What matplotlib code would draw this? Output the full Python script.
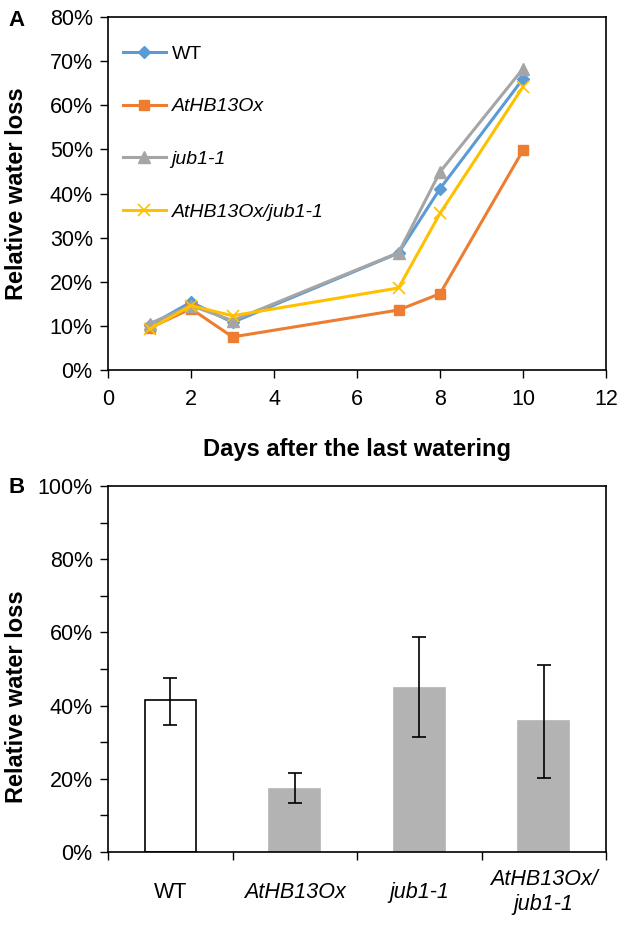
import matplotlib
matplotlib.use("Agg")
import matplotlib.pyplot as plt
from matplotlib.ticker import MultipleLocator, FuncFormatter, FixedLocator

plt.rcParams['font.family'] = ['Liberation Sans', 'DejaVu Sans']

# ---- Panel A data ----
days = [1, 2, 3, 7, 8, 10]
wt = [10.1, 15.4, 10.8, 26.5, 41.1, 66.0]
athb13ox = [9.5, 13.9, 7.5, 13.6, 17.3, 49.8]
jub1 = [10.5, 14.6, 11.2, 26.6, 44.9, 68.3]
double = [9.3, 14.6, 12.3, 18.6, 35.5, 64.2]
series_names = ['WT', 'AtHB13Ox', 'jub1-1', 'AtHB13Ox/jub1-1']

# ---- Panel B data ----
genotypes = ['WT', 'AtHB13Ox', 'jub1-1', 'AtHB13Ox/\njub1-1']
bar_means = [41.5, 17.1, 44.7, 35.7]
err_upper = [47.6, 21.6, 58.8, 51.0]
err_lower = [34.8, 13.4, 31.3, 20.2]

fig = plt.figure(figsize=(6.28, 9.26), dpi=100)

pct = FuncFormatter(lambda v, p: f"{v:.0f}%")
TICK_FS = 15.5
LABEL_FS = 17

# ---------- Panel A ----------
ax1 = fig.add_axes([0.172, 0.6004, 0.793, 0.3812])
styles = [
    dict(color='#5B9BD5', marker='D', ms=6.5),
    dict(color='#ED7D31', marker='s', ms=7),
    dict(color='#A5A5A5', marker='^', ms=8),
    dict(color='#FFC000', marker='x', ms=8, mew=1.2),
]
for ys, name, st in zip([wt, athb13ox, jub1, double], series_names, styles):
    ax1.plot(days, ys, lw=2.2, label=name, **st)
ax1.set_xlim(0, 12)
ax1.set_ylim(0, 80)
ax1.xaxis.set_major_locator(MultipleLocator(2))
ax1.yaxis.set_major_locator(MultipleLocator(10))
ax1.yaxis.set_major_formatter(pct)
ax1.tick_params(direction='out', length=6, width=1, labelsize=TICK_FS, colors='black')
ax1.tick_params(axis='x', pad=8)
ax1.tick_params(axis='y', pad=5)
ax1.set_ylabel('Relative water loss', fontsize=LABEL_FS, fontweight='bold')
ax1.yaxis.set_label_coords(-0.16, 0.5)
ax1.set_xlabel('Days after the last watering', fontsize=LABEL_FS, fontweight='bold', labelpad=20)
for s in ax1.spines.values():
    s.set_linewidth(1.2)
leg = ax1.legend(loc='upper left', frameon=False, fontsize=14, labelspacing=1.8,
                 handlelength=2.2, handletextpad=0.3, bbox_to_anchor=(-0.005, 0.97))
for t in leg.get_texts():
    if t.get_text() != 'WT':
        t.set_style('italic')

# ---------- Panel B ----------
ax2 = fig.add_axes([0.172, 0.0799, 0.793, 0.3953])
xpos = list(range(len(genotypes)))
colors = ['white', '#B3B3B3', '#B3B3B3', '#B3B3B3']
edges = ['black', '#B3B3B3', '#B3B3B3', '#B3B3B3']
ax2.bar(xpos, bar_means, width=0.41, color=colors, edgecolor=edges, linewidth=1.2, zorder=2)
yerr = [[m - lo for m, lo in zip(bar_means, err_lower)],
        [hi - m for m, hi in zip(bar_means, err_upper)]]
ax2.errorbar(xpos, bar_means, yerr=yerr, fmt='none', ecolor='black', elinewidth=1.2,
             capsize=4.7, capthick=1.2, zorder=3)
ax2.set_xlim(-0.5, len(genotypes) - 0.5)
ax2.set_ylim(0, 100)
ax2.yaxis.set_major_locator(MultipleLocator(20))
ax2.yaxis.set_minor_locator(MultipleLocator(10))
ax2.yaxis.set_major_formatter(pct)
ax2.xaxis.set_major_locator(FixedLocator([i - 0.5 for i in range(len(genotypes) + 1)]))
ax2.xaxis.set_major_formatter(FuncFormatter(lambda v, p: ''))
ax2.xaxis.set_minor_locator(FixedLocator(xpos))
ax2.set_xticklabels(genotypes, minor=True)
ax2.tick_params(which='both', direction='out', width=1, labelsize=TICK_FS, colors='black')
ax2.tick_params(axis='y', which='both', length=6, pad=5)
ax2.tick_params(axis='x', which='major', length=6)
ax2.tick_params(axis='x', which='minor', length=0, pad=29)
for t in ax2.get_xticklabels(minor=True):
    t.set_verticalalignment('center')
    t.set_linespacing(1.25)
    if t.get_text() != 'WT':
        t.set_style('italic')
ax2.set_ylabel('Relative water loss', fontsize=LABEL_FS, fontweight='bold')
ax2.yaxis.set_label_coords(-0.16, 0.424)
for s in ax2.spines.values():
    s.set_linewidth(1.2)

fig.text(0.013, 0.978, 'A', fontsize=16, fontweight='bold', va='center', ha='left')
fig.text(0.013, 0.474, 'B', fontsize=16, fontweight='bold', va='center', ha='left')

fig.savefig('out.png', dpi=100)
